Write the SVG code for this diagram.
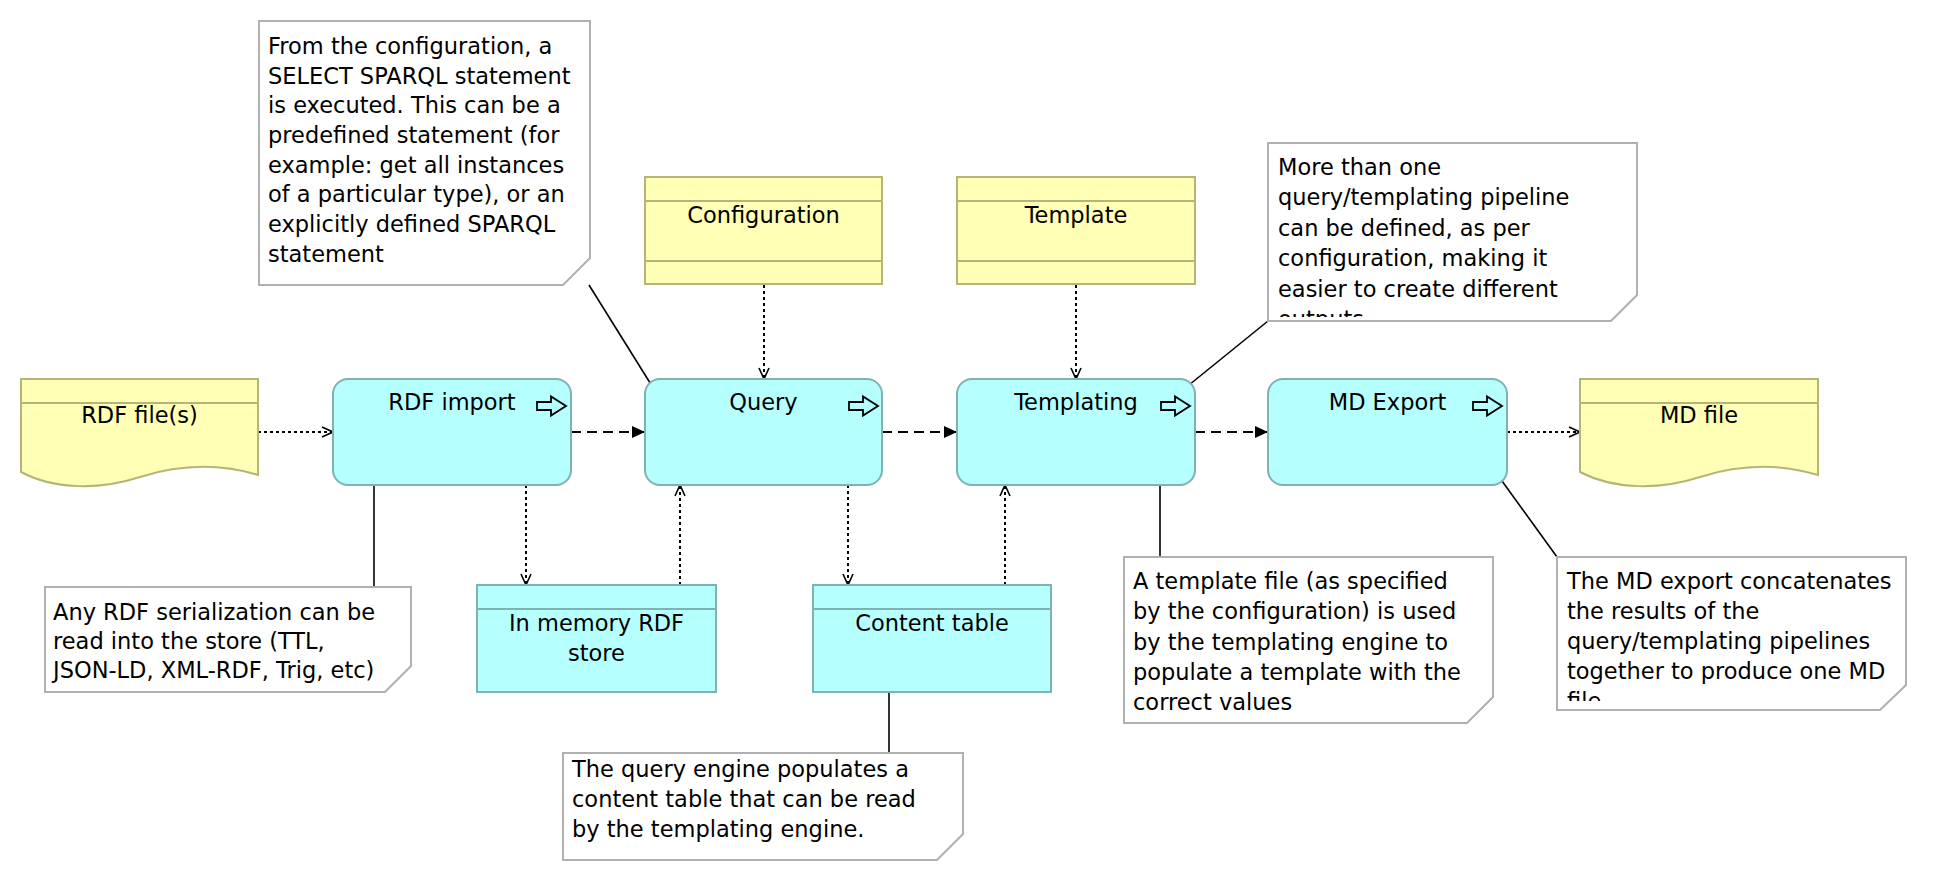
<svg xmlns="http://www.w3.org/2000/svg" width="1946" height="882" viewBox="0 0 1946 882">
<style>
text{font-family:"DejaVu Sans","Liberation Sans",sans-serif;font-size:22.5px;fill:#000}
.c{text-anchor:middle}
.biz{fill:#ffffb5;stroke:#b5b57a;stroke-width:2}
.app{fill:#b5ffff;stroke:#7fb2b2;stroke-width:2}
.note{fill:#fff;stroke:#b0b0b0;stroke-width:2}
.ico{fill:none;stroke:#000;stroke-width:1.8}
.dot{fill:none;stroke:#000;stroke-width:2;stroke-dasharray:3 3}
.dash{fill:none;stroke:#000;stroke-width:2;stroke-dasharray:10 6}
.ln{fill:none;stroke:#000;stroke-width:1.6}
</style>
<defs>
<marker id="tri" viewBox="0 0 13 12" refX="13" refY="6" markerWidth="13" markerHeight="12" orient="auto" markerUnits="userSpaceOnUse"><path d="M0,0 L13,6 L0,12 Z" fill="#000"/></marker>
<marker id="open" viewBox="0 0 13 12" refX="12" refY="6" markerWidth="13" markerHeight="12" orient="auto" markerUnits="userSpaceOnUse"><path d="M1,1 L12,6 L1,11" fill="none" stroke="#000" stroke-width="1.6"/></marker>
<path id="icon" class="ico" d="M0,-4 H14 V-9.5 L29,0 L14,9.5 V4 H0 Z"/>
<clipPath id="clipN2"><rect x="1268" y="143" width="369" height="174"/></clipPath>
<clipPath id="clipN5"><rect x="1557" y="557" width="349" height="144"/></clipPath>
</defs>

<g id="connectors">
<line class="dot" x1="258" y1="432" x2="333" y2="432" marker-end="url(#open)"/>
<line class="dash" x1="571" y1="432" x2="645" y2="432" marker-end="url(#tri)"/>
<line class="dash" x1="882" y1="432" x2="957" y2="432" marker-end="url(#tri)"/>
<line class="dash" x1="1195" y1="432" x2="1268" y2="432" marker-end="url(#tri)"/>
<line class="dot" x1="1507" y1="432" x2="1580" y2="432" marker-end="url(#open)"/>
<line class="dot" x1="764" y1="285" x2="764" y2="379" marker-end="url(#open)"/>
<line class="dot" x1="1076" y1="285" x2="1076" y2="379" marker-end="url(#open)"/>
<line class="dot" x1="526" y1="485" x2="526" y2="585" marker-end="url(#open)"/>
<line class="dot" x1="680" y1="585" x2="680" y2="485" marker-end="url(#open)"/>
<line class="dot" x1="848" y1="485" x2="848" y2="585" marker-end="url(#open)"/>
<line class="dot" x1="1005" y1="585" x2="1005" y2="485" marker-end="url(#open)"/>
<line class="ln" x1="589" y1="285" x2="652" y2="386"/>
<line class="ln" x1="1268" y1="321" x2="1189" y2="385"/>
<line class="ln" x1="374" y1="485" x2="374" y2="587"/>
<line class="ln" x1="1160" y1="485" x2="1160" y2="557"/>
<line class="ln" x1="1502" y1="481" x2="1557" y2="557"/>
<line class="ln" x1="889" y1="692" x2="889" y2="753"/>
</g>

<g id="rdf-files">
<path class="biz" d="M21,379 H258 V475 C215,462 175,466 140,477 C100,490 55,490 21,472 Z"/>
<line class="biz" x1="21" y1="403" x2="258" y2="403"/>
<text class="c" x="139.5" y="423">RDF file(s)</text>
</g>

<g id="rdf-import">
<rect class="app" x="333" y="379" width="238" height="106" rx="15"/>
<text class="c" x="452" y="410">RDF import</text>
<use href="#icon" x="537" y="406"/>
</g>

<g id="query">
<rect class="app" x="645" y="379" width="237" height="106" rx="15"/>
<text class="c" x="763.5" y="410">Query</text>
<use href="#icon" x="849" y="406"/>
</g>

<g id="templating">
<rect class="app" x="957" y="379" width="238" height="106" rx="15"/>
<text class="c" x="1076" y="410">Templating</text>
<use href="#icon" x="1161" y="406"/>
</g>

<g id="md-export">
<rect class="app" x="1268" y="379" width="239" height="106" rx="15"/>
<text class="c" x="1387.5" y="410">MD Export</text>
<use href="#icon" x="1473" y="406"/>
</g>

<g id="md-file">
<path class="biz" d="M1580,379 H1818 V475 C1775,462 1735,466 1700,477 C1660,490 1615,490 1580,472 Z"/>
<line class="biz" x1="1580" y1="403" x2="1818" y2="403"/>
<text class="c" x="1699" y="423">MD file</text>
</g>

<g id="configuration">
<rect class="biz" x="645" y="177" width="237" height="107"/>
<line class="biz" x1="645" y1="201" x2="882" y2="201"/>
<line class="biz" x1="645" y1="261" x2="882" y2="261"/>
<text class="c" x="763.5" y="223">Configuration</text>
</g>

<g id="template">
<rect class="biz" x="957" y="177" width="238" height="107"/>
<line class="biz" x1="957" y1="201" x2="1195" y2="201"/>
<line class="biz" x1="957" y1="261" x2="1195" y2="261"/>
<text class="c" x="1076" y="223">Template</text>
</g>

<g id="memory-store">
<rect class="app" x="477" y="585" width="239" height="107"/>
<line class="app" x1="477" y1="609" x2="716" y2="609"/>
<text class="c" x="596.5" y="631">In memory RDF</text>
<text class="c" x="596.5" y="661">store</text>
</g>

<g id="content-table">
<rect class="app" x="813" y="585" width="238" height="107"/>
<line class="app" x1="813" y1="609" x2="1051" y2="609"/>
<text class="c" x="932" y="631">Content table</text>
</g>

<g id="note-query">
<polygon class="note" points="259,21 590,21 590,258 563,285 259,285"/>
<text x="268" y="54">From the configuration, a</text>
<text x="268" y="84">SELECT SPARQL statement</text>
<text x="268" y="113">is executed. This can be a</text>
<text x="268" y="143">predefined statement (for</text>
<text x="268" y="173">example: get all instances</text>
<text x="268" y="202">of a particular type), or an</text>
<text x="268" y="232">explicitly defined SPARQL</text>
<text x="268" y="262">statement</text>
</g>

<g id="note-pipelines">
<polygon class="note" points="1268,143 1637,143 1637,295 1611,321 1268,321"/>
<g clip-path="url(#clipN2)">
<text x="1278" y="175">More than one</text>
<text x="1278" y="205">query/templating pipeline</text>
<text x="1278" y="236">can be defined, as per</text>
<text x="1278" y="266">configuration, making it</text>
<text x="1278" y="297">easier to create different</text>
<text x="1278" y="327">outputs.</text>
</g>
</g>

<g id="note-import">
<polygon class="note" points="45,587 411,587 411,666 385,692 45,692"/>
<text x="53" y="620">Any RDF serialization can be</text>
<text x="53" y="649">read into the store (TTL,</text>
<text x="53" y="678">JSON-LD, XML-RDF, Trig, etc)</text>
</g>

<g id="note-template">
<polygon class="note" points="1124,557 1493,557 1493,697 1467,723 1124,723"/>
<text x="1133" y="589">A template file (as specified</text>
<text x="1133" y="619">by the configuration) is used</text>
<text x="1133" y="650">by the templating engine to</text>
<text x="1133" y="680">populate a template with the</text>
<text x="1133" y="710">correct values</text>
</g>

<g id="note-export">
<polygon class="note" points="1557,557 1906,557 1906,685 1880,710 1557,710"/>
<g clip-path="url(#clipN5)">
<text x="1567" y="589">The MD export concatenates</text>
<text x="1567" y="619">the results of the</text>
<text x="1567" y="649">query/templating pipelines</text>
<text x="1567" y="679">together to produce one MD</text>
<text x="1567" y="709">file.</text>
</g>
</g>

<g id="note-content">
<polygon class="note" points="563,753 963,753 963,834 937,860 563,860"/>
<text x="572" y="777">The query engine populates a</text>
<text x="572" y="807">content table that can be read</text>
<text x="572" y="837">by the templating engine.</text>
</g>
</svg>
